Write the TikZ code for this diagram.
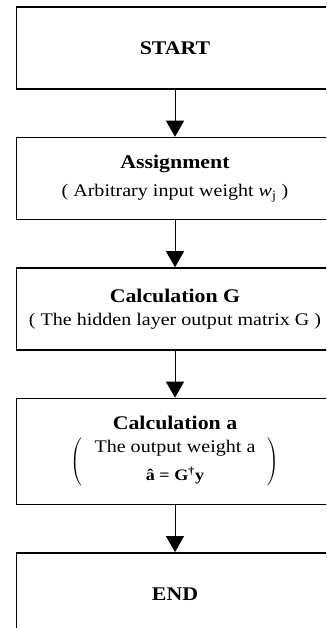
\documentclass[tikz,border=0pt]{standalone}
\usepackage{fontspec}
\setmainfont{Liberation Serif}[FakeStretch=1.13]
\usepackage{tikz}
\usetikzlibrary{arrows.meta,positioning}

\newcommand{\boxtitle}[1]{{\fontsize{14.5}{17}\selectfont\bfseries #1}}

\begin{document}
\begin{tikzpicture}[
  font=\fontsize{13.3}{16}\selectfont,
  box/.style={draw,line width=1.1pt,align=center,minimum width=237.75pt,minimum height=61.5pt,inner sep=0pt},
  arr/.style={-{Triangle[width=13.5pt,length=12pt]},line width=0.75pt}
]
\useasboundingbox (0,0) rectangle (244.5pt,-471pt);
\clip (0,0) rectangle (244.5pt,-471pt);
\node[box] (start) at (131.25pt,-36pt) {\boxtitle{START}};
\node[box,below=35.25pt of start] (assign) {\boxtitle{Assignment}\\[5pt]
  ( Arbitrary input weight \textit{w}\textsubscript{j} )};
\node[box,below=35.25pt of assign] (calcg) {\boxtitle{Calculation G}\\[1pt]
  ( The hidden layer output matrix G )};
\node[box,minimum height=79.5pt,below=35.25pt of calcg] (calca) {\boxtitle{Calculation a}\\[5pt]
  $\left(\hspace{9pt}\begin{tabular}{@{}c@{}}The output weight a\\[5pt]
  {\fontsize{12}{14}\selectfont\bfseries \^a = G\textsuperscript{\textdagger}y}\end{tabular}\hspace{9pt}\right)$};
\node[box,below=35.25pt of calca] (end) {\boxtitle{END}};
\draw[arr] (start) -- (assign);
\draw[arr] (assign) -- (calcg);
\draw[arr] (calcg) -- (calca);
\draw[arr] (calca) -- (end);
\end{tikzpicture}
\end{document}
